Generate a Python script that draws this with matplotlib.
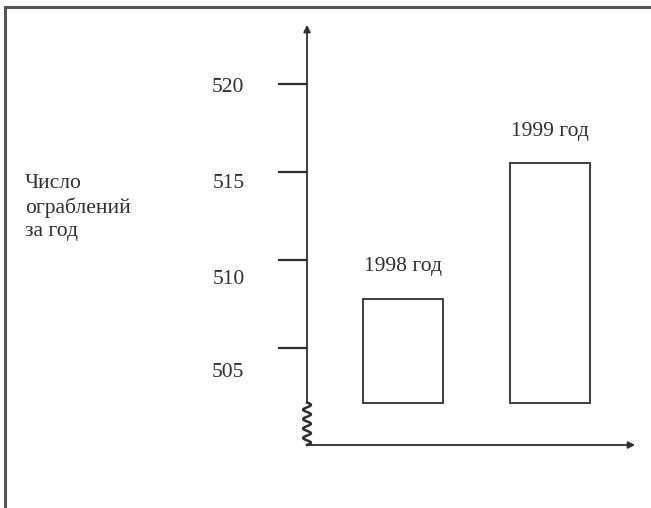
import numpy as np
import matplotlib
matplotlib.use("Agg")
import matplotlib.pyplot as plt
from matplotlib.transforms import ScaledTranslation

# data
years = ["1998 год", "1999 год"]
robberies = [507.8, 515.5]
yticks = [505, 510, 515, 520]
bar_base = 501.9          # bars start just above the broken part of the axis
ylabel = "Число\nограблений\nза год"

ink = "#2e2e2e"
plt.rcParams["font.family"] = ["Liberation Serif", "DejaVu Serif"]
plt.rcParams["font.size"] = 15.5

fig = plt.figure(figsize=(6.51, 5.08), dpi=100)

# axes placed so the drawing sits where the scanned one does
ax = fig.add_axes([0.4716, 0.124, 0.504, 0.827])
ax.set_xlim(-0.653, 1.578)
ax.set_ylim(499.49, 523.35)

x = np.arange(len(years))
bars = ax.bar(x, np.array(robberies) - bar_base, bottom=bar_base, width=0.544,
              facecolor="white", edgecolor=ink, linewidth=1.3)
ax.bar_label(bars, labels=years, padding=16, color=ink)

for s in ax.spines.values():
    s.set_visible(False)
ax.set_xticks([])
ax.set_yticks(yticks)
ax.tick_params(axis="y", direction="out", length=21, width=1.6, color=ink,
               pad=24, labelcolor=ink)

# in the scan the lower labels sit a little below their ticks
for lab, dy in zip(ax.get_yticklabels(), [22, 17, 9, 1]):
    lab.set_transform(lab.get_transform() + ScaledTranslation(0, -dy / 100, fig.dpi_scale_trans))

# vertical axis with arrow, broken by a zigzag near the bottom
brk = (bar_base - 499.49) / (523.35 - 499.49)
ax.annotate("", xy=(0, 1.0), xytext=(0, brk), xycoords="axes fraction",
            arrowprops=dict(arrowstyle="-|>", color=ink, lw=1.3,
                            mutation_scale=10, shrinkA=0, shrinkB=0))
t = np.linspace(0, 1, 200)
ax.plot(0.012 * np.sin(t * 2 * np.pi * 4.5), brk * (1 - t), transform=ax.transAxes,
        color=ink, lw=1.8, clip_on=False)

# horizontal axis with arrow
ax.annotate("", xy=(1.0, 0), xytext=(0, 0), xycoords="axes fraction",
            arrowprops=dict(arrowstyle="-|>", color=ink, lw=1.3,
                            mutation_scale=10, shrinkA=0, shrinkB=0))

fig.text(25 / 651, 1 - 174 / 508, ylabel, ha="left", va="top", color=ink,
         linespacing=1.3)

# scan frame: left and top edges only
fig.add_artist(plt.Line2D([5 / 651, 5 / 651], [0, 1 - 7 / 508], color="#555555", lw=2.2))
fig.add_artist(plt.Line2D([5 / 651, 1], [1 - 7 / 508, 1 - 7 / 508], color="#555555", lw=2.2))

fig.savefig("out.png", dpi=100)
